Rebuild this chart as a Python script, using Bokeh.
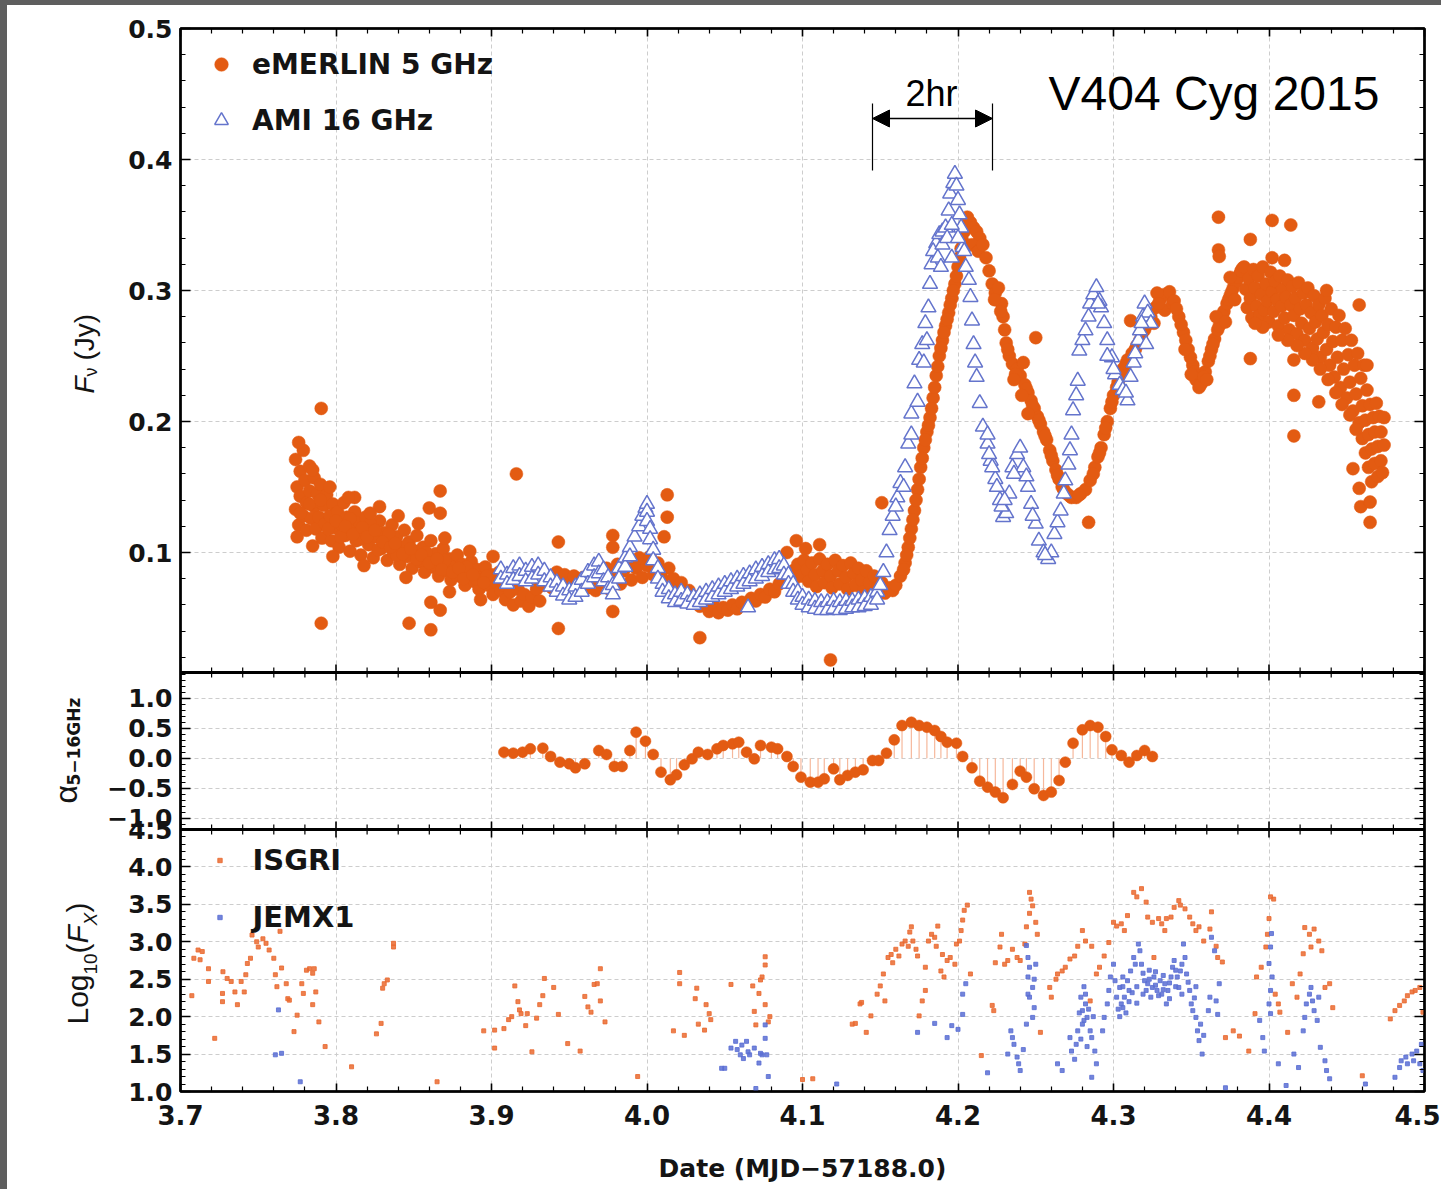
import math
from bokeh.plotting import figure
from bokeh.models import (Range1d, FixedTicker, LinearAxis, Label, Arrow, NormalHead, Span,
                          Legend, LegendItem, ColumnDataSource, Spacer, PrintfTickFormatter)
from bokeh.layouts import row, column
from bokeh.embed import file_html
from bokeh.resources import INLINE

# ---------------------------------------------------------------- data
# eMERLIN 5 GHz flux density (Jy) vs date (MJD-57188.0)
emerlin_pts = [
    (3.774,0.171),(3.775,0.150),(3.774,0.133),(3.776,0.121),(3.775,0.112),(3.777,0.162),(3.777,0.143),
    (3.779,0.178),(3.779,0.128),(3.780,0.155),(3.781,0.138),(3.781,0.117),(3.783,0.166),(3.783,0.147),
    (3.784,0.126),(3.786,0.157),(3.786,0.135),(3.787,0.118),(3.788,0.145),(3.789,0.127),(3.790,0.152),
    (3.791,0.111),(3.792,0.136),(3.793,0.122),(3.794,0.144),(3.796,0.128),(3.797,0.109),(3.798,0.137),
    (3.799,0.119),(3.801,0.131),(3.802,0.104),(3.803,0.122),(3.805,0.138),(3.806,0.113),(3.807,0.127),
    (3.809,0.101),(3.810,0.118),(3.812,0.131),(3.813,0.109),(3.815,0.123),(3.816,0.098),(3.818,0.114),
    (3.819,0.127),(3.821,0.106),(3.823,0.119),(3.824,0.096),(3.826,0.112),(3.828,0.124),(3.829,0.103),
    (3.831,0.115),(3.833,0.094),(3.834,0.108),(3.836,0.121),(3.837,0.100),(3.839,0.112),(3.841,0.091),
    (3.842,0.104),(3.844,0.117),(3.846,0.097),(3.847,0.108),(3.849,0.088),(3.851,0.101),(3.852,0.113),
    (3.854,0.093),(3.856,0.104),(3.857,0.085),(3.859,0.097),(3.861,0.109),(3.862,0.089),(3.864,0.099),
    (3.866,0.082),(3.867,0.093),(3.869,0.103),(3.871,0.086),(3.873,0.095),(3.874,0.079),(3.876,0.089),
    (3.878,0.098),(3.880,0.082),(3.881,0.091),(3.883,0.075),(3.885,0.085),(3.887,0.093),(3.889,0.078),
    (3.891,0.087),(3.892,0.072),(3.894,0.081),(3.896,0.089),(3.898,0.075),(3.900,0.083),(3.901,0.068),
    (3.903,0.077),(3.905,0.085),(3.906,0.071),(3.785,0.105),(3.796,0.150),(3.812,0.142),(3.828,0.135),
    (3.840,0.128),(3.853,0.122),(3.870,0.111),(3.886,0.101),(3.798,0.097),(3.818,0.090),(3.845,0.081),
    (3.873,0.070),(3.893,0.064),(3.777,0.130),(3.783,0.137),(3.790,0.140),(3.795,0.118),(3.803,0.112),
    (3.809,0.126),(3.815,0.110),(3.822,0.122),(3.827,0.102),(3.834,0.114),(3.839,0.098),(3.846,0.106),
    (3.852,0.095),(3.858,0.100),(3.864,0.090),(3.870,0.094),(3.877,0.083),(3.884,0.089),(3.890,0.080),
    (3.897,0.082),(3.800,0.124),(3.806,0.120),(3.811,0.114),(3.817,0.119),(3.820,0.112),(3.825,0.117),
    (3.830,0.108),(3.835,0.104),(3.838,0.107),(3.843,0.099),(3.848,0.103),(3.855,0.098),(3.860,0.092),
    (3.865,0.095),(3.868,0.087),(3.875,0.085),(3.879,0.088),(3.882,0.080),(3.888,0.083),(3.895,0.077),
    (3.776,0.184),(3.785,0.163),(3.7905,0.210),(3.7905,0.046),(3.808,0.142),(3.822,0.130),
    (3.860,0.134),(3.867,0.130),(3.867,0.147),(3.861,0.062),(3.867,0.056),(3.847,0.046),
    (3.861,0.041),(3.916,0.160),(3.901,0.097),
    (3.908,0.075),(3.909,0.064),(3.912,0.070),(3.914,0.060),(3.917,0.072),(3.919,0.063),
    (3.921,0.068),(3.924,0.059),(3.926,0.066),(3.929,0.072),(3.931,0.063),(3.934,0.075),
    (3.937,0.081),(3.939,0.073),(3.942,0.085),(3.944,0.077),(3.947,0.083),(3.950,0.076),
    (3.953,0.082),(3.956,0.075),(3.959,0.081),(3.962,0.073),(3.965,0.080),(3.967,0.071),
    (3.969,0.084),(3.972,0.077),(3.974,0.088),(3.976,0.072),(3.978,0.082),(3.981,0.091),
    (3.983,0.076),(3.985,0.086),(3.988,0.093),(3.990,0.079),(3.993,0.088),(3.995,0.096),
    (3.997,0.081),(4.000,0.090),(4.002,0.097),(4.004,0.083),(4.007,0.092),(4.009,0.085),
    (4.012,0.078),(4.014,0.088),(4.017,0.080),(4.019,0.073),(4.022,0.077),(4.024,0.068),
    (4.027,0.071),(4.029,0.063),(4.032,0.066),(4.034,0.059),(4.037,0.061),(4.040,0.055),
    (4.043,0.059),(4.046,0.054),(4.049,0.058),(4.052,0.056),(4.055,0.060),(4.058,0.057),
    (4.061,0.062),(4.064,0.060),(4.067,0.065),(4.070,0.063),(4.073,0.068),(4.076,0.066),
    (4.079,0.072),(4.082,0.070),(4.085,0.076),(4.088,0.078),(4.091,0.083),(4.094,0.086),
    (4.094,0.078),(4.097,0.091),(4.099,0.082),(4.101,0.094),(4.103,0.087),(4.104,0.078),
    (4.106,0.092),(4.108,0.083),(4.109,0.074),(4.111,0.095),(4.113,0.086),(4.114,0.077),
    (4.116,0.091),(4.118,0.082),(4.119,0.073),(4.121,0.094),(4.123,0.086),(4.124,0.076),
    (4.126,0.090),(4.128,0.081),(4.129,0.072),(4.131,0.092),(4.133,0.084),(4.134,0.075),
    (4.136,0.088),(4.138,0.079),(4.139,0.070),(4.141,0.086),(4.143,0.077),(4.144,0.068),
    (4.146,0.082),(4.148,0.073),(4.151,0.077),(4.153,0.069),(4.156,0.073),(4.158,0.071),
    (3.943,0.108),(3.943,0.042),(3.978,0.113),(3.978,0.104),(3.978,0.055),(4.011,0.112),
    (4.013,0.144),(4.013,0.127),(4.034,0.035),(4.096,0.109),(4.111,0.106),(4.118,0.018),
    (4.151,0.138),(4.090,0.100),(4.102,0.103),
    (4.160,0.075),(4.163,0.082),(4.166,0.092),(4.168,0.104),(4.170,0.118),(4.172,0.132),
    (4.174,0.148),(4.176,0.165),(4.178,0.180),(4.180,0.192),(4.182,0.203),(4.184,0.218),
    (4.186,0.235),(4.188,0.250),(4.190,0.262),(4.192,0.273),(4.194,0.283),(4.196,0.294),
    (4.198,0.305),(4.200,0.318),(4.202,0.332),(4.204,0.345),(4.206,0.356),
    (4.165,0.087),(4.167,0.098),(4.169,0.111),(4.171,0.125),(4.173,0.140),(4.175,0.156),
    (4.177,0.172),(4.179,0.186),(4.181,0.197),(4.183,0.210),(4.185,0.226),(4.187,0.242),
    (4.189,0.256),(4.191,0.268),(4.193,0.278),(4.195,0.289),(4.197,0.300),(4.199,0.311),
    (4.201,0.325),(4.203,0.338),(4.205,0.350),
    (4.208,0.352),(4.210,0.348),(4.212,0.345),(4.214,0.340),(4.209,0.335),(4.213,0.330),
    (4.216,0.335),(4.218,0.325),(4.220,0.315),
    (4.222,0.305),(4.224,0.298),(4.226,0.302),(4.228,0.290),(4.229,0.280),(4.230,0.270),
    (4.231,0.260),(4.233,0.250),(4.235,0.244),(4.238,0.240),(4.240,0.235),(4.242,0.245),
    (4.243,0.228),(4.245,0.222),(4.247,0.216),(4.249,0.210),(4.251,0.204),(4.253,0.198),
    (4.255,0.192),(4.257,0.186),(4.259,0.178),(4.261,0.170),(4.263,0.163),(4.265,0.156),
    (4.267,0.150),(4.270,0.145),(4.273,0.142),(4.276,0.142),(4.279,0.145),(4.282,0.148),
    (4.2235,0.293),(4.2275,0.284),(4.232,0.255),(4.237,0.236),(4.244,0.225),(4.248,0.212),
    (4.252,0.201),(4.256,0.189),(4.260,0.174),(4.264,0.159),(4.268,0.148),(4.272,0.143),
    (4.278,0.144),
    (4.236,0.232),(4.241,0.220),(4.245,0.206),(4.250,0.264),(4.284,0.123),
    (4.285,0.155),(4.288,0.165),(4.290,0.173),(4.292,0.180),(4.294,0.190),(4.296,0.200),
    (4.298,0.210),(4.300,0.220),(4.303,0.230),(4.306,0.240),(4.309,0.247),(4.312,0.252),
    (4.315,0.258),(4.318,0.266),(4.321,0.273),(4.324,0.280),(4.327,0.287),(4.330,0.293),
    (4.333,0.297),(4.336,0.299),(4.328,0.298),(4.333,0.285),(4.338,0.290),(4.326,0.275),
    (4.287,0.160),(4.291,0.176),(4.295,0.195),(4.299,0.215),(4.302,0.226),(4.305,0.236),
    (4.308,0.244),(4.314,0.255),(4.317,0.262),(4.320,0.270),(4.323,0.277),(4.329,0.290),
    (4.311,0.277),
    (4.339,0.292),(4.342,0.280),(4.345,0.268),(4.348,0.255),(4.351,0.243),(4.353,0.232),
    (4.355,0.226),(4.357,0.230),(4.359,0.238),(4.361,0.246),(4.363,0.255),(4.365,0.263),
    (4.367,0.270),(4.369,0.277),(4.371,0.284),(4.373,0.290),(4.375,0.296),(4.377,0.302),
    (4.379,0.307),(4.381,0.312),(4.383,0.317),
    (4.3405,0.286),(4.3435,0.274),(4.3465,0.262),(4.3495,0.249),(4.352,0.238),(4.356,0.228),
    (4.358,0.234),(4.362,0.250),(4.364,0.259),(4.368,0.273),(4.370,0.281),(4.374,0.293),
    (4.376,0.299),(4.380,0.310),(4.382,0.315),
    (4.346,0.255),(4.350,0.236),(4.360,0.232),(4.366,0.280),(4.372,0.276),(4.378,0.293),
    (4.375,0.310),
    (4.384,0.318),(4.385,0.301),(4.386,0.287),(4.387,0.309),(4.388,0.294),(4.389,0.279),(4.390,0.316),
    (4.391,0.302),(4.392,0.288),(4.393,0.311),(4.394,0.281),(4.395,0.297),(4.396,0.318),(4.397,0.285),
    (4.398,0.305),(4.399,0.292),(4.400,0.276),(4.401,0.314),(4.402,0.299),(4.403,0.284),(4.404,0.307),
    (4.405,0.293),(4.406,0.273),(4.407,0.311),(4.408,0.288),(4.409,0.301),(4.410,0.279),(4.411,0.295),
    (4.412,0.308),(4.413,0.270),(4.414,0.289),(4.415,0.303),(4.416,0.281),(4.417,0.294),(4.418,0.267),
    (4.419,0.306),(4.420,0.286),(4.421,0.275),(4.422,0.298),(4.423,0.262),(4.424,0.289),(4.425,0.302),
    (4.426,0.271),(4.427,0.283),(4.428,0.256),(4.429,0.296),(4.430,0.276),(4.431,0.263),(4.432,0.289),
    (4.433,0.249),(4.434,0.281),(4.435,0.268),(4.436,0.294),(4.437,0.255),(4.438,0.274),(4.439,0.243),
    (4.440,0.286),(4.441,0.261),(4.442,0.234),(4.443,0.272),(4.444,0.249),(4.445,0.281),(4.446,0.226),
    (4.447,0.262),(4.448,0.240),(4.449,0.271),(4.450,0.218),(4.451,0.251),(4.452,0.230),(4.453,0.262),
    (4.454,0.208),(4.455,0.243),(4.456,0.221),(4.457,0.252),(4.458,0.199),(4.459,0.233),(4.460,0.187),
    (4.460,0.212),(4.461,0.243),(4.462,0.176),(4.462,0.201),(4.463,0.224),(4.464,0.165),(4.464,0.190),
    (4.465,0.213),(4.466,0.154),(4.466,0.179),(4.467,0.203),(4.468,0.168),(4.468,0.192),(4.469,0.214),
    (4.470,0.158),(4.470,0.181),(4.471,0.204),(4.472,0.170),(4.472,0.192),(4.473,0.161),(4.474,0.182),
    (4.474,0.203),(4.447,0.213),(4.452,0.205),(4.456,0.194),(4.438,0.232),(4.443,0.222),(4.433,0.240),
    (4.428,0.247),(4.423,0.252),(4.418,0.258),(4.412,0.262),(4.406,0.266),(4.396,0.272),(4.391,0.275),
    (4.3675,0.356),(4.3675,0.331),(4.368,0.326),(4.388,0.339),(4.402,0.3535),(4.414,0.350),
    (4.402,0.325),(4.410,0.323),(4.388,0.248),(4.416,0.247),(4.416,0.220),(4.432,0.215),
    (4.416,0.189),(4.437,0.300),(4.458,0.289),(4.463,0.243),(4.454,0.164),(4.458,0.149),
    (4.459,0.135),(4.465,0.1385),(4.465,0.123),
]

# AMI 16 GHz flux density (Jy)
ami_pts = [
    (3.906,0.087),(3.906,0.080),(3.910,0.083),(3.910,0.076),(3.914,0.088),(3.914,0.079),
    (3.918,0.090),(3.918,0.082),(3.922,0.086),(3.922,0.078),(3.926,0.089),(3.926,0.080),
    (3.930,0.090),(3.930,0.083),(3.934,0.086),(3.934,0.078),(3.938,0.081),(3.938,0.074),
    (3.942,0.077),(3.942,0.070),(3.946,0.074),(3.946,0.067),(3.950,0.071),(3.950,0.064),
    (3.954,0.074),(3.954,0.066),(3.958,0.079),(3.958,0.070),(3.962,0.085),(3.962,0.076),
    (3.966,0.090),(3.966,0.081),(3.969,0.093),(3.969,0.084),(3.972,0.087),(3.972,0.078),
    (3.975,0.081),(3.975,0.072),(3.978,0.075),(3.978,0.068),(3.982,0.088),(3.982,0.080),
    (3.986,0.096),(3.986,0.089),(3.989,0.104),(3.989,0.097),(3.992,0.112),(3.995,0.120),
    (3.997,0.128),(3.999,0.134),(4.000,0.137),(4.000,0.131),(4.000,0.124),(4.002,0.118),
    (4.002,0.110),(4.004,0.102),(4.004,0.094),(4.007,0.088),(4.007,0.080),(4.010,0.076),
    (4.010,0.070),(4.014,0.072),(4.014,0.065),(4.018,0.068),(4.018,0.062),(4.022,0.070),
    (4.022,0.063),(4.026,0.068),(4.026,0.061),(4.030,0.066),(4.030,0.060),(4.034,0.068),
    (4.034,0.062),(4.038,0.070),(4.038,0.064),(4.042,0.072),(4.042,0.066),(4.046,0.074),
    (4.046,0.068),(4.050,0.076),(4.050,0.070),(4.054,0.078),(4.054,0.072),(4.058,0.080),
    (4.058,0.074),(4.062,0.082),(4.062,0.076),(4.066,0.084),(4.066,0.078),(4.065,0.058),
    (4.070,0.087),(4.070,0.080),(4.074,0.089),(4.074,0.082),(4.078,0.091),(4.078,0.085),
    (4.082,0.094),(4.082,0.087),(4.085,0.095),(4.085,0.088),(4.088,0.090),(4.088,0.083),
    (4.091,0.083),(4.091,0.076),(4.094,0.076),(4.094,0.070),(4.097,0.070),(4.097,0.064),
    (4.100,0.066),(4.100,0.060),(4.104,0.064),(4.104,0.058),(4.108,0.063),(4.108,0.057),
    (4.112,0.062),(4.112,0.056),(4.116,0.062),(4.116,0.056),(4.120,0.063),(4.120,0.057),
    (4.124,0.062),(4.124,0.056),(4.128,0.063),(4.128,0.057),(4.132,0.063),(4.132,0.058),
    (4.136,0.064),(4.136,0.058),(4.140,0.065),(4.140,0.059),(4.144,0.066),(4.144,0.060),
    (4.148,0.070),(4.148,0.064),
    (4.150,0.075),(4.152,0.085),(4.154,0.100),(4.156,0.117),(4.158,0.128),(4.161,0.142),
    (4.163,0.153),(4.166,0.165),(4.168,0.183),(4.170,0.206),(4.172,0.229),(4.175,0.247),
    (4.177,0.259),(4.179,0.275),(4.181,0.287),(4.182,0.305),(4.183,0.320),(4.186,0.336),
    (4.188,0.343),(4.190,0.345),(4.192,0.348),(4.194,0.361),(4.195,0.374),(4.197,0.382),
    (4.198,0.389),(4.199,0.380),(4.200,0.369),(4.201,0.358),(4.202,0.348),(4.203,0.333),
    (4.205,0.318),(4.207,0.308),(4.208,0.295),(4.209,0.277),(4.210,0.259),(4.211,0.245),
    (4.212,0.234),(4.214,0.214),(4.216,0.196),(4.219,0.183),(4.221,0.170),(4.224,0.156),
    (4.227,0.140),(4.229,0.127),(4.231,0.130),(4.233,0.145),(4.235,0.165),(4.238,0.175),
    (4.240,0.180),(4.242,0.165),(4.245,0.150),(4.247,0.137),(4.250,0.122),(4.252,0.109),
    (4.255,0.100),(4.258,0.095),(4.260,0.100),(4.262,0.114),(4.264,0.123),(4.266,0.132),
    (4.268,0.145),(4.269,0.155),(4.271,0.167),(4.272,0.178),(4.273,0.190),(4.274,0.2085),
    (4.276,0.220),(4.277,0.231),(4.278,0.254),(4.280,0.262),(4.282,0.2695),(4.285,0.290),
    (4.287,0.297),(4.289,0.3025),(4.291,0.292),(4.292,0.287),(4.294,0.275),(4.296,0.262),
    (4.299,0.249),(4.301,0.236),(4.304,0.228),(4.306,0.224),(4.309,0.216),(4.311,0.234),
    (4.313,0.245),(4.314,0.252),(4.316,0.262),(4.317,0.2695),(4.319,0.280),(4.320,0.290),
    (4.322,0.283),(4.324,0.275),(4.321,0.259),
    (4.184,0.330),(4.187,0.325),(4.190,0.335),(4.193,0.340),(4.196,0.350),(4.200,0.340),
    (4.204,0.330),(4.189,0.318),(4.196,0.325),(4.219,0.190),(4.220,0.175),(4.222,0.165),
    (4.225,0.150),(4.228,0.135),(4.230,0.140),(4.236,0.160),(4.244,0.158),(4.248,0.128),
    (4.256,0.098),(4.284,0.280),(4.290,0.290),(4.296,0.250),(4.300,0.240),(4.308,0.222),
    (4.318,0.275),(4.160,0.135),(4.165,0.150),(4.170,0.190),(4.174,0.215),(4.178,0.245),
    (4.180,0.262),
]

# spectral index alpha(5-16 GHz)
alpha_pts = [
    (3.908,0.100),(3.914,0.084),(3.920,0.100),(3.925,0.156),(3.933,0.167),(3.938,0.028),
    (3.944,-0.066),(3.950,-0.094),(3.954,-0.160),(3.960,-0.094),(3.969,0.128),(3.974,0.062),
    (3.979,-0.138),(3.984,-0.138),(3.989,0.128),(3.993,0.434),(3.999,0.284),(4.004,0.062),
    (4.009,-0.233),(4.015,-0.360),(4.019,-0.277),(4.024,-0.110),(4.029,-0.011),(4.033,0.100),
    (4.039,0.062),(4.045,0.156),(4.049,0.212),(4.055,0.239),(4.059,0.267),(4.064,0.100),
    (4.069,-0.011),(4.073,0.212),(4.080,0.184),(4.084,0.156),(4.090,0.028),(4.094,-0.138),
    (4.099,-0.316),(4.105,-0.400),(4.110,-0.400),(4.114,-0.344),(4.120,-0.178),(4.124,-0.360),
    (4.129,-0.288),(4.134,-0.233),(4.139,-0.194),(4.145,-0.039),(4.149,-0.039),(4.154,0.084),
    (4.159,0.306),(4.164,0.545),(4.170,0.600),(4.175,0.545),(4.180,0.517),(4.185,0.462),
    (4.189,0.362),(4.193,0.267),(4.199,0.250),(4.203,0.028),(4.209,-0.160),(4.214,-0.383),
    (4.219,-0.483),(4.224,-0.566),(4.229,-0.660),(4.235,-0.438),(4.240,-0.216),(4.244,-0.316),
    (4.249,-0.510),(4.255,-0.622),(4.260,-0.566),(4.265,-0.372),(4.269,-0.066),(4.274,0.250),
    (4.280,0.473),(4.285,0.545),(4.290,0.517),(4.295,0.362),(4.299,0.140),(4.305,0.045),
    (4.310,-0.066),(4.315,0.045),(4.320,0.128),(4.325,0.028),
]

# INTEGRAL ISGRI log10 rate
isgri_pts = [
    (3.7073,2.28),(3.7086,2.78),(3.7113,2.89),(3.714,2.87),(3.7126,2.76),(3.718,2.64),(3.718,2.47),
    (3.722,1.71),(3.7273,2.60),(3.727,2.31),(3.727,2.20),(3.730,2.51),(3.7326,2.47),(3.735,2.33),
    (3.7366,2.16),(3.739,2.47),(3.741,2.33),(3.742,2.56),(3.743,2.71),(3.745,2.78),(3.746,3.09),
    (3.749,3.00),(3.750,2.93),(3.753,3.04),(3.755,2.98),(3.757,2.89),(3.760,2.78),(3.761,2.56),
    (3.762,2.40),(3.764,3.14),(3.765,2.65),(3.768,2.44),(3.769,2.24),(3.770,2.22),
    (3.773,1.80),(3.775,2.02),(3.778,2.44),(3.779,2.31),(3.781,2.62),(3.783,2.64),(3.785,2.58),
    (3.786,2.64),(3.785,2.16),(3.787,2.33),(3.789,1.93),(3.793,1.60),(3.810,1.33),(3.826,1.77),
    (3.829,1.91),(3.830,2.38),(3.831,2.44),(3.833,2.49),(3.837,2.98),(3.837,2.93),(3.865,1.13),
    (3.895,1.81),(3.902,1.58),(3.902,1.82),(3.908,1.84),(3.911,1.96),(3.913,2.00),(3.915,2.41),
    (3.917,2.20),(3.918,2.09),(3.919,2.04),(3.922,1.88),(3.923,2.04),(3.926,1.53),(3.929,1.98),
    (3.931,2.16),(3.933,2.28),(3.934,2.51),(3.940,2.39),(3.943,2.03),(3.949,1.64),(3.957,1.54),
    (3.960,2.27),(3.962,2.13),(3.964,2.06),(3.966,2.43),(3.968,2.44),(3.970,2.64),(3.970,2.21),
    (3.973,1.93),(3.994,1.20),(4.017,1.81),(4.021,2.59),(4.021,2.44),(4.024,1.75),(4.031,2.24),
    (4.032,2.38),(4.033,1.90),(4.037,1.82),(4.038,2.16),(4.040,2.04),(4.041,1.96),(4.054,2.43),
    (4.068,2.41),(4.069,2.07),(4.070,1.89),(4.072,2.31),(4.073,2.49),(4.074,2.53),(4.076,2.69),
    (4.076,2.80),(4.076,2.16),(4.078,1.93),(4.079,2.00),(4.100,1.16),
    (4.1066,1.17),(4.132,1.90),(4.134,1.91),(4.137,2.17),(4.138,2.19),(4.141,1.79),(4.144,2.01),
    (4.148,2.30),(4.150,2.41),(4.152,2.57),(4.153,2.21),(4.155,2.79),(4.157,2.83),(4.158,2.72),
    (4.160,2.90),(4.162,2.81),(4.164,2.97),(4.166,3.01),(4.168,2.94),(4.169,3.13),(4.170,3.20),
    (4.171,3.01),(4.173,2.90),(4.174,2.81),(4.175,2.01),(4.177,2.21),(4.179,2.35),(4.179,2.66),
    (4.181,3.01),(4.183,3.10),(4.185,3.06),(4.186,2.94),(4.187,3.21),(4.189,2.61),(4.190,2.83),
    (4.191,2.53),(4.193,2.75),(4.195,2.79),(4.198,2.70),(4.199,2.97),(4.201,3.01),(4.202,3.15),
    (4.203,3.29),(4.204,3.42),(4.206,3.49),(4.208,2.57),(4.215,1.48),(4.222,2.15),(4.223,2.08),
    (4.224,2.72),(4.227,2.93),(4.228,3.10),(4.230,2.70),(4.232,2.75),(4.235,2.90),(4.238,2.79),
    (4.240,2.75),(4.243,2.97),(4.244,3.20),(4.246,3.38),(4.246,3.66),(4.247,3.57),(4.248,3.48),
    (4.250,3.26),(4.251,3.10),(4.253,1.79),(4.259,2.39),(4.260,2.26),(4.263,2.50),(4.264,2.57),
    (4.267,2.61),(4.269,2.66),(4.272,2.77),(4.275,2.81),(4.277,2.94),(4.280,3.15),(4.282,3.01),
    (4.285,2.21),(4.286,2.94),(4.289,2.57),(4.291,2.66),(4.294,2.81),(4.297,2.99),(4.300,3.26),
    (4.302,3.21),(4.305,3.24),(4.307,3.15),(4.309,3.35),(4.313,3.66),(4.315,3.60),(4.318,3.71),
    (4.321,3.53),(4.322,3.33),(4.325,3.26),(4.326,2.79),(4.329,3.31),(4.331,3.24),(4.333,3.15),
    (4.334,3.31),(4.337,3.33),(4.339,3.46),(4.342,3.55),(4.343,3.49),(4.346,3.44),(4.349,3.33),
    (4.351,3.24),(4.353,3.15),(4.355,3.20),(4.358,3.01),(4.362,3.17),(4.363,3.40),(4.366,2.94),
    (4.367,2.79),(4.370,2.73),(4.372,1.72),(4.377,1.81),(4.381,1.74),(4.387,1.54),(4.391,2.04),
    (4.392,2.53),(4.395,2.66),(4.398,2.93),(4.399,3.10),(4.400,3.31),(4.401,3.60),(4.403,3.57),
    (4.404,2.30),(4.406,2.17),(4.407,2.06),(4.412,1.79),(4.415,2.44),(4.418,2.26),(4.420,2.57),
    (4.422,2.84),(4.423,3.19),(4.426,3.10),(4.427,2.93),(4.429,3.17),(4.432,3.01),(4.434,2.88),
    (4.436,2.39),(4.439,2.44),(4.441,2.12),(4.460,1.21),(4.478,1.97),(4.481,2.08),(4.484,2.15),
    (4.487,2.21),(4.489,2.28),(4.492,2.33),(4.494,2.35),(4.497,2.39),(4.499,2.06),
]

# INTEGRAL JEM-X1 log10 rate
jemx_pts = [
    (3.763,2.09),(3.761,1.49),(3.765,1.51),(3.777,1.13),
    (4.048,1.31),(4.050,1.31),(4.054,1.58),(4.057,1.67),(4.058,1.56),(4.060,1.49),(4.061,1.62),
    (4.062,1.44),(4.064,1.67),(4.065,1.53),(4.066,1.49),(4.069,1.58),(4.072,1.38),(4.073,1.51),
    (4.074,1.49),(4.076,1.71),(4.076,1.89),(4.077,1.49),(4.078,1.20),(4.070,1.04),
    (4.122,1.10),(4.174,1.79),(4.185,1.91),(4.193,1.72),(4.196,1.88),(4.200,1.83),(4.203,2.30),
    (4.205,2.44),(4.203,2.03),(4.219,1.25),(4.232,1.50),(4.234,1.81),(4.235,1.72),(4.236,1.63),
    (4.238,1.46),(4.239,1.37),(4.240,1.28),(4.242,1.56),
    (4.244,2.95),(4.245,2.79),(4.246,2.66),(4.245,2.53),(4.248,2.39),(4.246,2.26),(4.249,2.12),
    (4.248,1.99),(4.250,2.70),(4.249,2.50),(4.244,1.90),(4.245,2.30),
    (4.264,1.37),(4.267,1.28),(4.272,1.72),(4.273,1.54),(4.275,1.43),(4.276,1.63),(4.277,1.81),
    (4.279,2.26),(4.280,2.08),(4.281,1.95),(4.282,2.17),(4.283,1.99),(4.285,1.81),(4.280,1.90),
    (4.282,2.30),(4.286,1.72),(4.288,1.54),(4.289,1.37),(4.286,1.19),
    (4.278,2.05),(4.281,2.40),(4.284,2.10),(4.279,1.70),(4.283,1.60),(4.287,2.00),
    (4.293,1.81),(4.294,1.99),(4.296,2.17),(4.297,2.35),(4.298,2.53),(4.300,2.70),(4.301,2.48),
    (4.302,2.26),(4.304,2.39),(4.305,2.17),(4.306,2.53),(4.307,2.26),(4.309,2.48),(4.311,2.61),
    (4.313,2.79),(4.314,2.70),(4.316,2.97),(4.317,2.88),(4.318,2.70),(4.320,2.48),(4.321,2.35),
    (4.322,2.44),(4.324,2.26),(4.325,2.39),(4.326,2.53),(4.328,2.35),(4.330,2.48),(4.331,2.30),
    (4.333,2.44),(4.334,2.17),(4.335,2.35),(4.337,2.53),(4.338,2.66),(4.339,2.75),(4.341,2.53),
    (4.342,2.39),(4.343,2.61),(4.345,2.97),(4.346,2.79),(4.347,2.57),(4.349,2.35),(4.350,2.17),
    (4.351,2.08),(4.353,1.99),(4.354,1.81),(4.355,1.68),(4.357,1.50),(4.361,2.08),(4.362,2.26),
    (4.363,3.06),(4.365,2.88),(4.366,2.21),(4.367,2.03),(4.368,2.44),(4.372,1.05),
    (4.303,2.10),(4.304,2.00),(4.306,2.12),(4.308,2.05),(4.310,2.20),(4.312,2.32),(4.315,2.40),
    (4.319,2.58),(4.323,2.50),(4.327,2.42),(4.329,2.28),(4.332,2.36),(4.336,2.45),(4.340,2.40),
    (4.344,2.30),(4.348,2.46),(4.344,2.70),(4.340,2.62),(4.336,2.24),(4.332,2.55),(4.323,2.62),
    (4.319,2.30),(4.315,2.18),(4.310,2.35),(4.306,2.40),(4.327,2.60),(4.352,2.25),(4.353,2.40),
    (4.356,1.90),(4.358,1.75),
    (4.394,1.95),(4.396,1.72),(4.397,1.54),(4.4016,3.11),(4.401,2.93),(4.400,2.71),(4.402,2.53),
    (4.401,2.35),(4.400,2.17),(4.401,2.04),(4.406,1.37),(4.411,1.08),(4.416,1.50),(4.419,1.32),
    (4.422,1.81),(4.423,1.99),(4.424,2.17),(4.426,2.30),(4.427,2.39),(4.428,2.21),(4.429,2.08),
    (4.431,1.95),(4.432,2.26),(4.433,1.59),(4.436,1.41),(4.437,1.28),(4.439,1.17),(4.462,1.10),
    (4.481,1.19),(4.484,1.32),(4.485,1.41),(4.488,1.46),(4.489,1.37),(4.492,1.50),(4.493,1.41),
    (4.495,1.54),(4.497,1.37),(4.498,1.63),(4.499,1.28),
]

x_ticks = [3.7, 3.8, 3.9, 4.0, 4.1, 4.2, 4.3, 4.4, 4.5]
flux_ticks = [0.1, 0.2, 0.3, 0.4, 0.5]
flux_tick_labels = ["0.1", "0.2", "0.3", "0.4", "0.5"]
alpha_ticks = [-1.0, -0.5, 0.0, 0.5, 1.0]
alpha_tick_labels = ["\u22121.0", "\u22120.5", "0.0", "0.5", "1.0"]
logfx_ticks = [1.0, 1.5, 2.0, 2.5, 3.0, 3.5, 4.0, 4.5]
logfx_tick_labels = ["1.0", "1.5", "2.0", "2.5", "3.0", "3.5", "4.0", "4.5"]

# ---------------------------------------------------------------- style / geometry
ORANGE = "#e35b12"
BLUE = "#6474cc"
ISGRI_C = "#ea6a30"
JEMX_C = "#5b6ed4"
STEM_C = "#f6b89c"
GRID_C = "#cdcdcd"
TXT = "#141414"
BOLD_FONT = "DejaVu Sans"
SANS = "Liberation Sans"

X0, X1 = 3.7, 4.5
FLUX_RANGE = (0.0084, 0.5)
ALPHA_RANGE = (-1.19, 1.43)
LOGFX_RANGE = (1.0, 4.5)

PAGE_X0, PAGE_Y0 = 7, 5          # grey strips on the left / top of the page
SIDE_W = 96                      # strip holding the rotated axis titles
BORDER_L, BORDER_R, BORDER_T, BORDER_B = 77, 16, 23, 98
FRAME_W = 1244
TOP_H, MID_H, BOT_H = 644, 157, 262
FRAME_H = TOP_H + MID_H + BOT_H
FRAME_L = 181                                  # page x of the frame's left edge
FRAME_TOP = PAGE_Y0 + BORDER_T                 # page y of the frame's top edge
FRAME_BOT = FRAME_TOP + FRAME_H
TOTAL_H = BORDER_T + FRAME_H + BORDER_B

k_flux = TOP_H / (FLUX_RANGE[1] - FLUX_RANGE[0])
k_alpha = MID_H / (ALPHA_RANGE[1] - ALPHA_RANGE[0])
k_logfx = BOT_H / (LOGFX_RANGE[1] - LOGFX_RANGE[0])
flux_full = (FLUX_RANGE[1] - FRAME_H / k_flux, FLUX_RANGE[1])
alpha_top = ALPHA_RANGE[1] + TOP_H / k_alpha
alpha_full = (alpha_top - FRAME_H / k_alpha, alpha_top)
logfx_full = (LOGFX_RANGE[0], LOGFX_RANGE[0] + FRAME_H / k_logfx)


def xd(px):
    return X0 + (px - FRAME_L) / FRAME_W * (X1 - X0)


def fy(py):
    return FRAME_BOT - py


def to_px(v, full, k):
    return round((v - full[0]) * k, 3)


def minor_list(lo, hi, step, majors):
    out = []
    n = int(round((hi - lo) / step))
    for i in range(n + 1):
        v = round(lo + i * step, 3)
        if all(abs(v - m) > 1e-6 for m in majors):
            out.append(v)
    return out


x_minor = minor_list(3.7, 4.5, 0.02, x_ticks)
x_ticker = FixedTicker(ticks=x_ticks, minor_ticks=x_minor)

y_major, y_minor, y_over = [], [], {}
for ticks, labels, lo, hi, step, full, k in (
        (flux_ticks, flux_tick_labels, 0.02, 0.48, 0.02, flux_full, k_flux),
        (alpha_ticks, alpha_tick_labels, -1.1, 1.4, 0.1, alpha_full, k_alpha),
        (logfx_ticks, logfx_tick_labels, 1.1, 4.4, 0.1, logfx_full, k_logfx)):
    for v, lab in zip(ticks, labels):
        pos = to_px(v, full, k)
        y_major.append(pos)
        y_over[pos] = lab
    y_minor += [to_px(v, full, k) for v in minor_list(lo, hi, step, ticks)]
y_ticker = FixedTicker(ticks=y_major, minor_ticks=y_minor)


def style_axis(ax, ticker, tin, mtin, show_labels):
    ax.ticker = ticker
    ax.major_tick_in = tin
    ax.major_tick_out = 0
    ax.minor_tick_in = mtin
    ax.minor_tick_out = 0
    ax.major_tick_line_color = "black"
    ax.minor_tick_line_color = "black"
    ax.major_tick_line_width = 1.6
    ax.minor_tick_line_width = 1.2
    ax.axis_line_color = "black"
    ax.axis_line_width = 2
    if show_labels:
        ax.major_label_text_font = BOLD_FONT
        ax.major_label_text_font_style = "bold"
        ax.major_label_text_color = TXT
    else:
        ax.major_label_text_font_size = "1px"
        ax.major_label_text_color = None
        ax.major_label_standoff = 0


# ---------------------------------------------------------------- main figure (three stacked panels)
p = figure(x_range=Range1d(X0, X1), y_range=Range1d(0, FRAME_H),
           frame_width=FRAME_W, frame_height=FRAME_H,
           min_border_left=BORDER_L, min_border_right=BORDER_R,
           min_border_top=BORDER_T, min_border_bottom=BORDER_B,
           output_backend="svg", toolbar_location=None,
           background_fill_color="white", border_fill_color="white",
           outline_line_color="black", outline_line_width=2.5)
p.extra_y_ranges = {"flux": Range1d(*flux_full), "alpha": Range1d(*alpha_full),
                    "logfx": Range1d(*logfx_full)}
p.add_layout(LinearAxis(), "above")
p.add_layout(LinearAxis(), "right")

bottom_ax = p.below[0]
style_axis(bottom_ax, x_ticker, 8, 5, True)
bottom_ax.formatter = PrintfTickFormatter(format="%.1f")
bottom_ax.major_label_text_font_size = "26px"
bottom_ax.major_label_standoff = 13
bottom_ax.axis_label = "Date (MJD\u221257188.0)"
bottom_ax.axis_label_text_font = BOLD_FONT
bottom_ax.axis_label_text_font_style = "bold"
bottom_ax.axis_label_text_font_size = "25px"
bottom_ax.axis_label_text_color = TXT
bottom_ax.axis_label_standoff = 26

left_ax = p.left[0]
style_axis(left_ax, y_ticker, 10, 5, True)
left_ax.major_label_overrides = y_over
left_ax.major_label_text_font_size = "25px"
left_ax.major_label_standoff = 8

style_axis(p.above[0], x_ticker, 8, 5, False)
style_axis(p.right[0], y_ticker, 10, 5, False)

for g in p.xgrid:
    g.ticker = x_ticker
for g in p.ygrid:
    g.ticker = FixedTicker(ticks=y_major)
p.grid.grid_line_color = GRID_C
p.grid.grid_line_dash = "4 3"
p.grid.grid_line_width = 1

# panel separators with their ticks (pointing into both panels)
for sep in (BOT_H, BOT_H + MID_H):
    p.add_layout(Span(location=sep, dimension="width", line_color="black", line_width=3))
sep_x, sep_y0, sep_y1, sep_w = [], [], [], []
for sep in (BOT_H, BOT_H + MID_H):
    for t in x_ticks:
        sep_x.append(t); sep_y0.append(sep - 8); sep_y1.append(sep + 8); sep_w.append(1.6)
    for t in x_minor:
        sep_x.append(t); sep_y0.append(sep - 5); sep_y1.append(sep + 5); sep_w.append(1.2)
src_sep = ColumnDataSource(dict(x=sep_x, y0=sep_y0, y1=sep_y1, w=sep_w))
p.segment(x0="x", y0="y0", x1="x", y1="y1", source=src_sep, line_color="black", line_width="w")

# ---- top panel: radio light curves
src_em = ColumnDataSource(dict(t=[a for a, b in emerlin_pts], f=[b for a, b in emerlin_pts]))
src_ami = ColumnDataSource(dict(t=[a for a, b in ami_pts], f=[b for a, b in ami_pts]))
r_em = p.scatter("t", "f", source=src_em, y_range_name="flux", marker="circle", size=13,
                 fill_color=ORANGE, line_color=ORANGE, line_width=0.5)
r_ami = p.scatter("t", "f", source=src_ami, y_range_name="flux", marker="triangle", size=15,
                  fill_color="white", line_color=BLUE, line_width=1.5)
p.add_layout(Legend(items=[LegendItem(label="eMERLIN 5 GHz", renderers=[r_em]),
                           LegendItem(label="AMI 16 GHz", renderers=[r_ami])],
                    location=(21, FRAME_H - 19 - 90), orientation="vertical", margin=0, padding=0,
                    spacing=22, glyph_width=40, glyph_height=34, label_height=34,
                    label_standoff=11, border_line_color=None, background_fill_alpha=0,
                    label_text_font=BOLD_FONT, label_text_font_style="bold",
                    label_text_font_size="28px", label_text_color=TXT))

# 2 hr scale bar and source name
p.add_layout(Arrow(x_start=xd(873), y_start=fy(118), x_end=xd(993), y_end=fy(118), line_width=1.5,
                   start=NormalHead(size=17, fill_color="black", line_color="black"),
                   end=NormalHead(size=17, fill_color="black", line_color="black")))
for bx in (873, 993):
    p.add_layout(Arrow(x_start=xd(bx), y_start=fy(103), x_end=xd(bx), y_end=fy(170),
                       start=None, end=None, line_width=1.2, line_color="black"))
p.add_layout(Label(x=xd(932), y=fy(93), text="2hr", text_align="center", text_baseline="middle",
                   text_font=SANS, text_font_size="36px", text_color="black"))
p.add_layout(Label(x=xd(1049), y=fy(93), text="V404 Cyg 2015", text_align="left",
                   text_baseline="middle", text_font=SANS, text_font_size="48px", text_color="black"))

# ---- middle panel: spectral index
src_al = ColumnDataSource(dict(t=[a for a, b in alpha_pts], a=[b for a, b in alpha_pts]))
p.segment(x0="t", y0=0, x1="t", y1="a", source=src_al, y_range_name="alpha",
          line_color=STEM_C, line_width=1.2)
p.scatter("t", "a", source=src_al, y_range_name="alpha", marker="circle", size=11,
          fill_color=ORANGE, line_color=ORANGE, line_width=0.5)

# ---- bottom panel: hard X-rays
src_is = ColumnDataSource(dict(t=[a for a, b in isgri_pts], y=[b for a, b in isgri_pts]))
src_je = ColumnDataSource(dict(t=[a for a, b in jemx_pts], y=[b for a, b in jemx_pts]))
r_is = p.scatter("t", "y", source=src_is, y_range_name="logfx", marker="square", size=4,
                 fill_color=ISGRI_C, line_color=ISGRI_C, alpha=0.85)
r_je = p.scatter("t", "y", source=src_je, y_range_name="logfx", marker="square", size=4,
                 fill_color=JEMX_C, line_color=JEMX_C, alpha=0.85)
p.add_layout(Legend(items=[LegendItem(label="ISGRI", renderers=[r_is]),
                           LegendItem(label="JEMX1", renderers=[r_je])],
                    location=(33.5, 157), orientation="vertical", margin=0, padding=0,
                    spacing=23, glyph_width=11, glyph_height=34, label_height=34,
                    label_standoff=28, border_line_color=None, background_fill_alpha=0,
                    label_text_font=BOLD_FONT, label_text_font_style="bold",
                    label_text_font_size="29px", label_text_color=TXT))

# ---------------------------------------------------------------- strip with the y-axis titles
# its frame is aligned with the main frame, so page coordinates are used directly
side = figure(width=SIDE_W, height=TOTAL_H,
              x_range=Range1d(PAGE_X0, PAGE_X0 + SIDE_W), y_range=Range1d(FRAME_BOT, FRAME_TOP),
              x_axis_type=None, y_axis_type=None, toolbar_location=None, output_backend="svg",
              min_border=0, outline_line_color=None,
              background_fill_color="white", border_fill_color="white")


def title_piece(text, baseline_x, start_y, size, font=SANS, style="normal"):
    # rotated text is centred on its anchor; shift so that its baseline lands on baseline_x
    side.add_layout(Label(x=baseline_x - 0.35 * size, y=start_y, text=text, angle=math.pi / 2,
                          text_align="left", text_baseline="middle",
                          text_font=font, text_font_size=f"{size}px",
                          text_font_style=style, text_color=TXT))


title_piece("F", 94, 393, 28, style="italic")
title_piece("\u03bd", 97, 376, 18)
title_piece("(Jy)", 94, 360, 28)
title_piece("\u03b1", 77, 803, 32)
title_piece("5\u221216GHz", 79, 785, 17, font=BOLD_FONT, style="bold")
title_piece("Log", 87, 1024, 30)
title_piece("10", 97, 974, 19)
title_piece("(", 87, 953, 30)
title_piece("F", 87, 943, 30, style="italic")
title_piece("X", 97, 925, 19, style="italic")
title_piece(")", 87, 912, 30)

# ---------------------------------------------------------------- page
bg = {"background-color": "#5e5e5e"}
top_strip = Spacer(width=1441, height=PAGE_Y0, styles=bg)
left_strip = Spacer(width=PAGE_X0, height=TOTAL_H, styles=bg)
layout = column(top_strip, row(left_strip, side, p))

open("out.html", "w").write(file_html(layout, INLINE, "V404 Cyg 2015"))
